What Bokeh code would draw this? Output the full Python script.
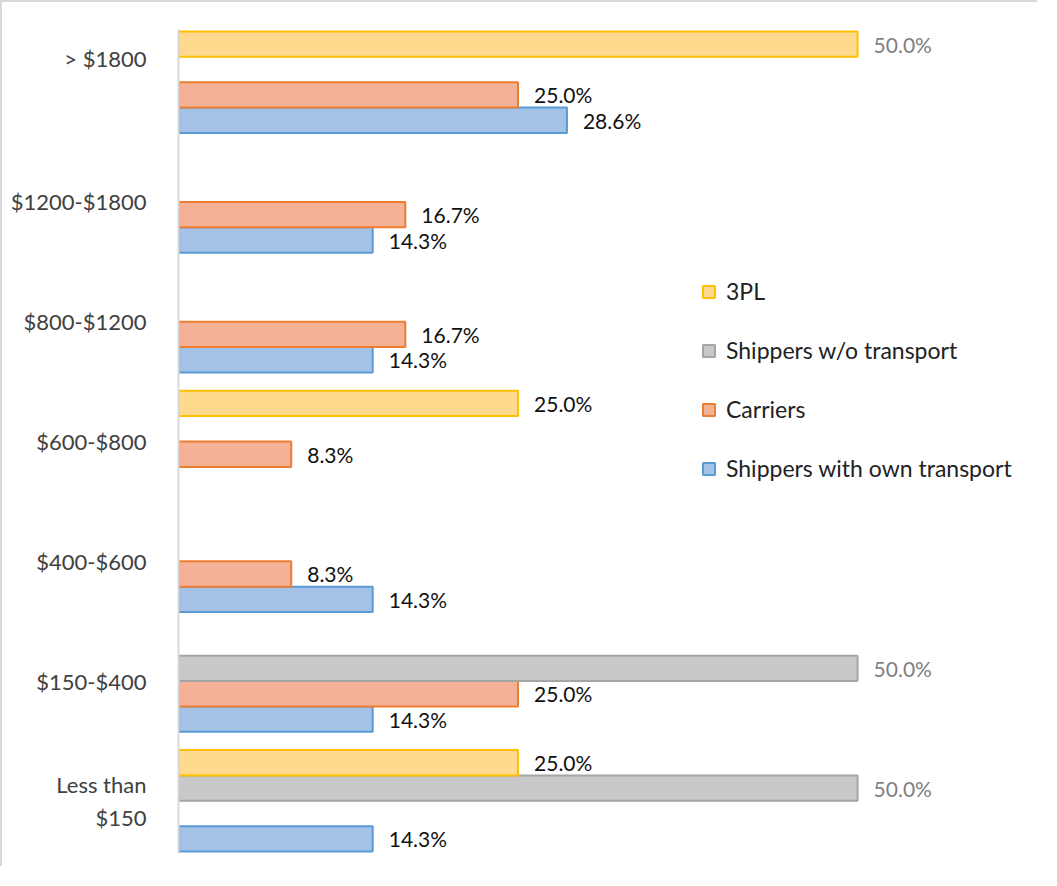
from bokeh.plotting import figure
from bokeh.models import ColumnDataSource, Range1d, FixedTicker, Legend, LegendItem
from bokeh.core.properties import value
from bokeh.embed import file_html
from bokeh.resources import INLINE

# ---- data ----
categories = ["Less than\n$150", "$150-$400", "$400-$600", "$600-$800",
              "$800-$1200", "$1200-$1800", "> $1800"]
shippers_own = [14.3, 14.3, 14.3, None, 14.3, 14.3, 28.6]
carriers = [None, 25.0, 8.3, 8.3, 16.7, 16.7, 25.0]
shippers_wo = [50.0, 50.0, None, None, None, None, None]
third_pl = [25.0, None, None, 25.0, None, None, 50.0]

series_names = ["Shippers with own transport", "Carriers", "Shippers w/o transport", "3PL"]
series_values = [shippers_own, carriers, shippers_wo, third_pl]

# ---- style ----
offsets = [-0.318, -0.106, 0.106, 0.318]
bar_h = 0.212
fills = ["#A3C2E6", "#F5B196", "#C9C9C9", "#FFD98E"]
lines = ["#5B9BD5", "#ED7D31", "#A5A5A5", "#FFC000"]
label_shift = [0, 0, 0, 0, 0, 0, 0.2]

p = figure(width=1037, height=866, x_range=Range1d(0, 63.1), y_range=Range1d(-0.44, 6.44),
           output_backend="svg", toolbar_location=None, x_axis_location=None,
           min_border_left=176, min_border_right=4, min_border_top=27, min_border_bottom=15)
p.outline_line_color = None
p.grid.visible = False
p.background_fill_color = "white"
p.border_fill_color = "white"
p.styles = {"border-top": "2px solid #D9D9D9", "border-left": "2px solid #D9D9D9"}

renderers = []
for si, (name, vals) in enumerate(zip(series_names, series_values)):
    ys, vs, labs, cols = [], [], [], []
    for ci, v in enumerate(vals):
        if v is None:
            continue
        ys.append(ci + offsets[si])
        vs.append(v)
        labs.append(f"{v:.1f}%")
        cols.append("#7F7F7F" if v >= 50 else "#111111")
    src = ColumnDataSource(dict(y=ys, v=vs, lbl=labs, col=cols))
    r = p.hbar(y="y", right="v", left=0, height=bar_h, source=src,
               fill_color=fills[si], line_color=lines[si], line_width=2)
    renderers.append(r)
    p.text(x="v", y="y", text="lbl", source=src, x_offset=16, text_baseline="middle",
           text_align="left", text_font=value("Lato"), text_font_size="21px", text_color="col")

ticks = [i + s for i, s in enumerate(label_shift)]
p.yaxis.ticker = FixedTicker(ticks=ticks)
p.yaxis.major_label_overrides = {t: c for t, c in zip(ticks, categories)}
p.yaxis.axis_line_color = "#D9D9D9"
p.yaxis.axis_line_width = 2
p.yaxis.major_tick_line_color = None
p.yaxis.minor_tick_line_color = None
p.yaxis.major_label_standoff = 26
p.yaxis.major_label_text_font = "Lato"
p.yaxis.major_label_text_font_size = "22px"
p.yaxis.major_label_text_color = "#404040"

legend = Legend(items=[LegendItem(label=series_names[i], renderers=[renderers[i]]) for i in [3, 2, 1, 0]],
                location=(523, 371), orientation="vertical")
legend.glyph_width = 15
legend.glyph_height = 15
legend.label_height = 20
legend.spacing = 31
legend.padding = 0
legend.margin = 0
legend.label_standoff = 10
legend.label_text_font = "Lato"
legend.label_text_font_size = "23px"
legend.label_text_color = "#222222"
legend.border_line_color = None
legend.background_fill_alpha = 0
p.add_layout(legend)

open("out.html", "w").write(file_html(p, INLINE))
